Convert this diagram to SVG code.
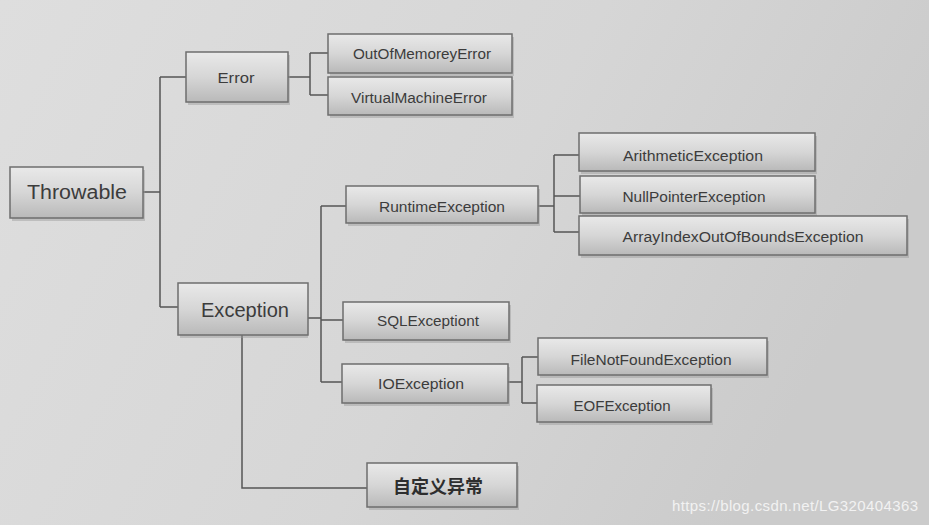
<svg xmlns="http://www.w3.org/2000/svg" width="929" height="525" viewBox="0 0 929 525">
<defs>
<linearGradient id="bg" x1="0" y1="0" x2="1" y2="0.3">
<stop offset="0" stop-color="#dedede"/>
<stop offset="0.6" stop-color="#d6d6d6"/>
<stop offset="1" stop-color="#cbcbcb"/>
</linearGradient>
<linearGradient id="box" x1="0" y1="0" x2="0" y2="1">
<stop offset="0" stop-color="#e9e9e9"/>
<stop offset="0.5" stop-color="#d6d6d6"/>
<stop offset="1" stop-color="#b9b9b9"/>
</linearGradient>
<style>
.n rect.b{fill:url(#box);stroke:#6e6e6e;stroke-width:1.5}
.n rect.s{fill:#9a9a9a;opacity:0.45}
.n text{font-family:"Liberation Sans","DejaVu Sans",sans-serif;fill:#3c3c3c;text-anchor:middle;dominant-baseline:central;font-size:15.5px}
.n text.big{font-size:20px}
.n text.cjk{font-family:"Noto Sans CJK SC",sans-serif;font-weight:bold;fill:#2e2e2e;font-size:18px}
#connectors path{fill:none;stroke:#555;stroke-width:1.5}
</style>
</defs>
<rect width="929" height="525" fill="url(#bg)"/>
<g id="connectors">
<path d="M143 192H160M160 77V307M160 77H186M160 307H178"/>
<path d="M288 77H310M310 53V95M310 53H328M310 95H328"/>
<path d="M308 318H321M321 206V382M321 206H346M321 320H343M321 382H342"/>
<path d="M538 206H554M554 155V232M554 155H579M554 196H580M554 232H579"/>
<path d="M508 382H522M522 357V403M522 357H538M522 403H537"/>
<path d="M242 335V488H367"/>
</g>
<g id="throwable" class="n"><rect class="s" x="12" y="170" width="133" height="51"/><rect class="b" x="10" y="167" width="133" height="51"/><text class="big" x="77" y="192" textLength="100" lengthAdjust="spacingAndGlyphs">Throwable</text></g>
<g id="error" class="n"><rect class="s" x="188" y="55" width="102" height="50"/><rect class="b" x="186" y="52" width="102" height="50"/><text x="236" y="77" textLength="37" lengthAdjust="spacingAndGlyphs">Error</text></g>
<g id="exception" class="n"><rect class="s" x="180" y="286" width="128" height="52"/><rect class="b" x="178" y="283" width="130" height="52"/><text class="big" x="245" y="310" textLength="88" lengthAdjust="spacingAndGlyphs">Exception</text></g>
<g id="oom" class="n"><rect class="s" x="330" y="37" width="184" height="39"/><rect class="b" x="328" y="34" width="184" height="39"/><text x="422" y="53" textLength="138" lengthAdjust="spacingAndGlyphs">OutOfMemoreyError</text></g>
<g id="vme" class="n"><rect class="s" x="330" y="80" width="184" height="38"/><rect class="b" x="328" y="77" width="184" height="38"/><text x="419" y="97" textLength="136" lengthAdjust="spacingAndGlyphs">VirtualMachineError</text></g>
<g id="runtime" class="n"><rect class="s" x="348" y="189" width="192" height="37"/><rect class="b" x="346" y="186" width="192" height="37"/><text x="442" y="206" textLength="126" lengthAdjust="spacingAndGlyphs">RuntimeException</text></g>
<g id="sql" class="n"><rect class="s" x="345" y="305" width="166" height="38"/><rect class="b" x="343" y="302" width="166" height="38"/><text x="428" y="320" textLength="102" lengthAdjust="spacingAndGlyphs">SQLExceptiont</text></g>
<g id="io" class="n"><rect class="s" x="344" y="367" width="166" height="39"/><rect class="b" x="342" y="364" width="166" height="39"/><text x="421" y="383" textLength="86" lengthAdjust="spacingAndGlyphs">IOException</text></g>
<g id="arith" class="n"><rect class="s" x="581" y="136" width="236" height="38"/><rect class="b" x="579" y="133" width="236" height="38"/><text x="693" y="155" textLength="140" lengthAdjust="spacingAndGlyphs">ArithmeticException</text></g>
<g id="npe" class="n"><rect class="s" x="582" y="179" width="235" height="37"/><rect class="b" x="580" y="176" width="235" height="37"/><text x="694" y="196" textLength="143" lengthAdjust="spacingAndGlyphs">NullPointerException</text></g>
<g id="aioobe" class="n"><rect class="s" x="581" y="219" width="328" height="39"/><rect class="b" x="579" y="216" width="328" height="39"/><text x="743" y="236" textLength="241" lengthAdjust="spacingAndGlyphs">ArrayIndexOutOfBoundsException</text></g>
<g id="fnf" class="n"><rect class="s" x="540" y="341" width="229" height="37"/><rect class="b" x="538" y="338" width="229" height="37"/><text x="651" y="359" textLength="161" lengthAdjust="spacingAndGlyphs">FileNotFoundException</text></g>
<g id="eof" class="n"><rect class="s" x="539" y="388" width="174" height="37"/><rect class="b" x="537" y="385" width="174" height="37"/><text x="622" y="405" textLength="97" lengthAdjust="spacingAndGlyphs">EOFException</text></g>
<g id="custom" class="n"><rect class="s" x="369" y="466" width="150" height="44"/><rect class="b" x="367" y="463" width="150" height="44"/><text class="cjk" x="438" y="485">自定义异常</text></g>
<text x="672" y="511" font-family="Liberation Sans, Arial, sans-serif" font-size="15" fill="#f2f2f2" textLength="246">https://blog.csdn.net/LG320404363</text>
</svg>
